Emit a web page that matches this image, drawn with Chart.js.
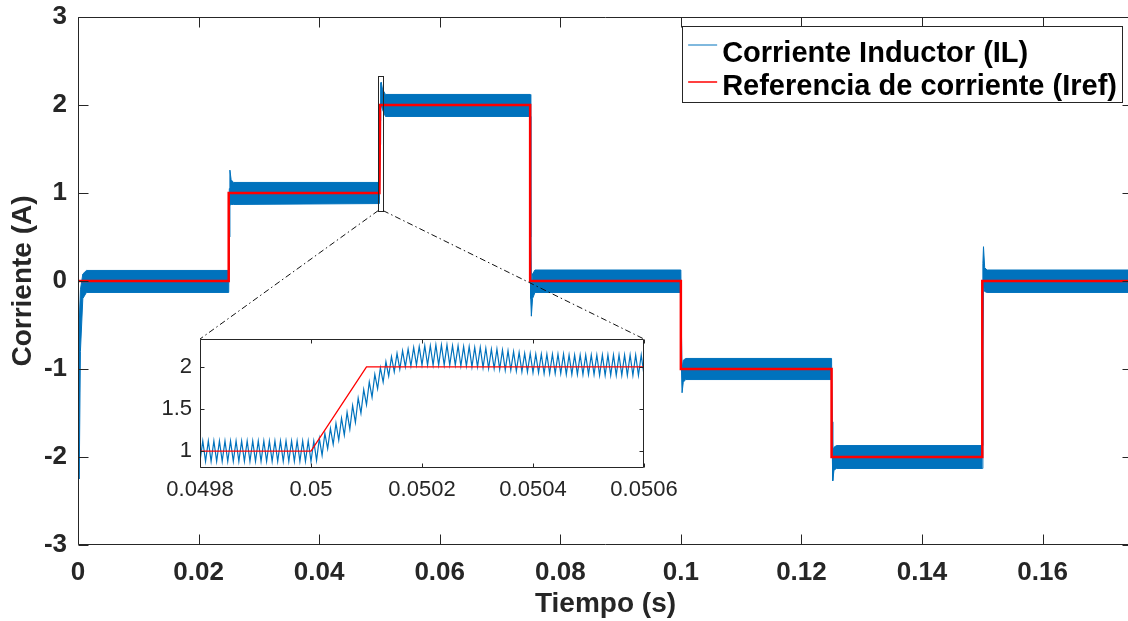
<!DOCTYPE html>
<html>
<head>
<meta charset="utf-8">
<script src="https://cdn.jsdelivr.net/npm/chart.js@4.4.1/dist/chart.umd.min.js"></script>
<style>
html, body { margin: 0; padding: 0; background: #fff; overflow: hidden; }
#wrap { position: relative; width: 1128px; height: 621px; overflow: hidden; }
#mainChart { position: absolute; left: 0; top: 0; }
#insetChart { position: absolute; left: 140px; top: 328px; }
</style>
</head>
<body>
<div id="wrap">
  <canvas id="mainChart" width="1134" height="621"></canvas>
  <canvas id="insetChart" width="560" height="185"></canvas>
</div>
<script>
// 축 눈금
const mainXTicks = [0, 0.02, 0.04, 0.06, 0.08, 0.1, 0.12, 0.14, 0.16];
const mainXLabels = ['0', '0.02', '0.04', '0.06', '0.08', '0.1', '0.12', '0.14', '0.16'];
const mainYTicks = [-3, -2, -1, 0, 1, 2, 3];
const mainYLabels = ['-3', '-2', '-1', '0', '1', '2', '3'];
const insetXTicks = [0.0498, 0.05, 0.0502, 0.0504, 0.0506];
const insetXLabels = ['0.0498', '0.05', '0.0502', '0.0504', '0.0506'];
const insetYTicks = [1, 1.5, 2];
const insetYLabels = ['1', '1.5', '2'];

// 확대 영역 (inset 축 범위 = 본 그래프의 사각형)
const insetXRange = [0.0498, 0.0506];
const insetYRange = [0.8, 2.33];

// 전류 기준 (Iref)
const refTime = [0, 0.025, 0.025, 0.05, 0.0501, 0.075, 0.075, 0.1, 0.1, 0.125, 0.125, 0.15, 0.15, 0.175];
const refValue = [0, 0, 1, 1, 2, 2, 0, 0, -1, -1, -2, -2, 0, 0];

// 인덕터 전류 리플 밴드 (상단/하단 포락선)
const envTime = [
  0, 0.0002, 0.0004, 0.0008, 0.0014,
  0.025, 0.0251, 0.0252, 0.0254, 0.0258,
  0.05, 0.0501, 0.0502, 0.0503, 0.0505, 0.051,
  0.075, 0.0751, 0.0752, 0.0754, 0.0758,
  0.1, 0.1001, 0.1002, 0.1004, 0.1008,
  0.125, 0.1251, 0.1252, 0.1254, 0.1258,
  0.15, 0.1501, 0.1502, 0.1504, 0.1508,
  0.175
];
const envUpper = [
  0, -0.5, -0.1, 0.08, 0.12,
  0.12, 1.05, 1.26, 1.15, 1.12,
  1.12, 1.82, 2.25, 2.26, 2.18, 2.12,
  2.12, 0.5, -0.1, 0.08, 0.125,
  0.125, -0.6, -1.0, -0.9, -0.88,
  -0.88, -1.6, -1.95, -1.89, -1.87,
  -1.87, 0.2, 0.39, 0.15, 0.125,
  0.125
];
const envLower = [
  0, -2.25, -0.8, -0.2, -0.13,
  -0.13, 0.5, 0.86, 0.87, 0.87,
  0.88, 1.55, 2.02, 2.0, 1.95, 1.87,
  1.87, -0.2, -0.4, -0.2, -0.13,
  -0.13, -1.0, -1.27, -1.15, -1.12,
  -1.12, -1.9, -2.27, -2.15, -2.13,
  -2.13, -0.8, -0.05, -0.12, -0.13,
  -0.13
];

// inset: 리플 (5us 간격, 골/마루 교대)
const insetStart = 0.0498;
const insetHalfStep = 0.000005;
const insetValleys = [
  0.88, 0.88, 0.88, 0.88, 0.88, 0.88, 0.88, 0.88, 0.88, 0.88,
  0.88, 0.88, 0.88, 0.88, 0.88, 0.88, 0.88, 0.88, 0.88, 0.88,
  0.88, 0.89, 0.95, 1.03, 1.08, 1.13, 1.19, 1.26, 1.34, 1.45,
  1.55, 1.64, 1.74, 1.82, 1.89, 1.94, 1.97, 2.00, 2.01, 2.02,
  2.02, 2.02, 2.02, 2.02, 2.02, 2.02, 2.02, 2.01, 2.01, 2.00,
  2.00, 1.99, 1.98, 1.98, 1.97, 1.96, 1.96, 1.95, 1.94, 1.94,
  1.93, 1.93, 1.92, 1.92, 1.92, 1.92, 1.91, 1.91, 1.91, 1.91,
  1.91, 1.91, 1.90, 1.90, 1.90, 1.90, 1.90, 1.90, 1.90, 1.90,
  1.90
];
const insetPeaks = [
  1.12, 1.12, 1.12, 1.12, 1.12, 1.12, 1.12, 1.12, 1.12, 1.12,
  1.12, 1.12, 1.12, 1.12, 1.12, 1.12, 1.12, 1.12, 1.12, 1.12,
  1.12, 1.15, 1.21, 1.27, 1.33, 1.39, 1.46, 1.54, 1.63, 1.73,
  1.82, 1.91, 1.99, 2.06, 2.12, 2.16, 2.19, 2.21, 2.23, 2.24,
  2.25, 2.25, 2.26, 2.26, 2.26, 2.25, 2.25, 2.24, 2.24, 2.23,
  2.23, 2.22, 2.21, 2.21, 2.20, 2.19, 2.18, 2.17, 2.16, 2.16,
  2.15, 2.15, 2.15, 2.15, 2.15, 2.15, 2.14, 2.14, 2.14, 2.14,
  2.14, 2.14, 2.14, 2.14, 2.14, 2.14, 2.14, 2.14, 2.14, 2.14
];
const insetRefTime = [0.0498, 0.05, 0.0501, 0.0506];
const insetRefValue = [1, 1, 2, 2];

const FONT = "'Liberation Sans', Arial, Helvetica, sans-serif";
const AXIS_COLOR = '#262626';
const BLUE = '#0072BD';
const RED = '#FF0000';

function toPoints(xs, ys) {
    return xs.map((x, i) => ({ x: x, y: ys[i] }));
}

const insetPoints = [];
for (let i = 0; i < insetValleys.length; i++) {
    insetPoints.push({ x: insetStart + 2 * i * insetHalfStep, y: insetValleys[i] });
    if (i < insetPeaks.length) {
        insetPoints.push({ x: insetStart + (2 * i + 1) * insetHalfStep, y: insetPeaks[i] });
    }
}

// MATLAB 스타일 상자 + 안쪽 눈금
const boxPlugin = {
    id: 'matlabBox',
    afterDatasetsDraw(chart, args, opts) {
        const { ctx, chartArea: a } = chart;
        const xs = chart.scales.x, ys = chart.scales.y;
        const len = opts.tickLen;
        const L = Math.round(a.left) + 0.5, R = Math.round(a.right) - 0.5;
        const T = Math.round(a.top) + 0.5, B = Math.round(a.bottom) - 0.5;
        ctx.save();
        ctx.strokeStyle = AXIS_COLOR;
        ctx.lineWidth = 1;
        ctx.setLineDash([]);
        ctx.beginPath();
        ctx.rect(L, T, R - L, B - T);
        xs.ticks.forEach(t => {
            const p = Math.round(xs.getPixelForValue(t.value)) + 0.5;
            ctx.moveTo(p, B); ctx.lineTo(p, B - len);
            ctx.moveTo(p, T); ctx.lineTo(p, T + len);
        });
        ys.ticks.forEach(t => {
            const p = Math.round(ys.getPixelForValue(t.value)) + 0.5;
            ctx.moveTo(L, p); ctx.lineTo(L + len, p);
            ctx.moveTo(R, p); ctx.lineTo(R - len, p);
        });
        ctx.stroke();
        ctx.restore();
    }
};

const whiteArea = {
    id: 'whiteArea',
    beforeDraw(chart) {
        const { ctx, chartArea: a } = chart;
        ctx.save();
        ctx.fillStyle = '#fff';
        ctx.fillRect(a.left, a.top, a.right - a.left, a.bottom - a.top);
        ctx.restore();
    }
};

function fixedTicks(values) {
    return function (scale) {
        scale.ticks = values.map(v => ({ value: v }));
    };
}

// 축 크기 고정 (라벨이 차트 영역을 밀어내지 않게)
function fixWidth(w) {
    return function (s) {
        s.width = w;
        s.paddingTop = 0;
        s.paddingBottom = 0;
    };
}
function fixHeight(h) {
    return function (s) {
        s.height = h;
        s.paddingLeft = 0;
        s.paddingRight = 0;
    };
}

// inset 차트
const insetCanvas = document.getElementById('insetChart');
const insetChart = new Chart(insetCanvas.getContext('2d'), {
    type: 'line',
    data: {
        datasets: [{
            data: toPoints(insetRefTime, insetRefValue),
            borderColor: RED,
            borderWidth: 1.3,
            pointRadius: 0,
            fill: false,
            order: 0
        }, {
            data: insetPoints,
            borderColor: BLUE,
            borderWidth: 1.2,
            pointRadius: 0,
            fill: false,
            order: 1
        }]
    },
    options: {
        responsive: false,
        animation: false,
        events: [],
        layout: { padding: { top: 11, right: 56, left: 0, bottom: 0 } },
        plugins: { legend: { display: false }, tooltip: { enabled: false }, matlabBox: { tickLen: 4 } },
        scales: {
            x: {
                type: 'linear',
                min: insetXRange[0],
                max: insetXRange[1],
                afterBuildTicks: fixedTicks(insetXTicks),
                afterFit: fixHeight(45),
                grid: { display: false, drawTicks: false, tickLength: 0 },
                border: { display: false },
                ticks: {
                    autoSkip: false,
                    maxRotation: 0,
                    padding: 9,
                    color: AXIS_COLOR,
                    font: { family: FONT, size: 22 },
                    callback: (v, i) => insetXLabels[i]
                }
            },
            y: {
                min: insetYRange[0],
                max: insetYRange[1],
                afterBuildTicks: fixedTicks(insetYTicks),
                afterFit: fixWidth(60),
                grid: { display: false, drawTicks: false, tickLength: 0 },
                border: { display: false },
                ticks: {
                    padding: 8,
                    color: AXIS_COLOR,
                    font: { family: FONT, size: 22 },
                    callback: (v, i) => insetYLabels[i]
                }
            }
        }
    },
    plugins: [whiteArea, boxPlugin]
});

// 확대 사각형, 연결선, 범례
const zoomPlugin = {
    id: 'zoomAndLegend',
    afterDatasetsDraw(chart) {
        const { ctx, scales: { x, y } } = chart;
        const x0 = x.getPixelForValue(insetXRange[0]), x1 = x.getPixelForValue(insetXRange[1]);
        const y0 = y.getPixelForValue(insetYRange[0]), y1 = y.getPixelForValue(insetYRange[1]);
        ctx.save();
        ctx.strokeStyle = AXIS_COLOR;
        ctx.lineWidth = 1;
        ctx.strokeRect(Math.round(x0) + 0.5, Math.round(y1) + 0.5, Math.round(x1 - x0), Math.round(y0 - y1));
        const ia = insetChart.chartArea;
        const ix0 = insetCanvas.offsetLeft + ia.left, ix1 = insetCanvas.offsetLeft + ia.right;
        const iy = insetCanvas.offsetTop + ia.top;
        ctx.strokeStyle = '#111';
        ctx.setLineDash([6, 3, 1.5, 3]);
        ctx.beginPath();
        ctx.moveTo(x0, y0); ctx.lineTo(ix0, iy);
        ctx.moveTo(x1, y0); ctx.lineTo(ix1, iy);
        ctx.stroke();
        ctx.restore();
    },
    afterDraw(chart) {
        const { ctx, chartArea: a } = chart;
        const items = chart.data.datasets.filter(d => d.label);
        ctx.save();
        ctx.font = 'bold 29px ' + FONT;
        const textW = Math.max(...items.map(d => ctx.measureText(d.label).width));
        const right = 1122, top = a.top + 9;
        const w = 6 + 29 + 5 + textW + 5, h = 76;
        const left = right - w;
        ctx.fillStyle = '#fff';
        ctx.fillRect(left, top, w, h);
        ctx.strokeStyle = AXIS_COLOR;
        ctx.lineWidth = 1;
        ctx.strokeRect(Math.round(left) + 0.5, Math.round(top) + 0.5, Math.round(w), h);
        const lineY = [19, 56];
        const baseY = [36, 69];
        items.forEach((d, i) => {
            ctx.strokeStyle = d.borderColor;
            ctx.lineWidth = d.legendWidth;
            ctx.beginPath();
            ctx.moveTo(left + 6, top + lineY[i]);
            ctx.lineTo(left + 35, top + lineY[i]);
            ctx.stroke();
            ctx.fillStyle = '#000';
            ctx.textBaseline = 'alphabetic';
            ctx.fillText(d.label, left + 40, top + baseY[i]);
        });
        ctx.restore();
    }
};

// 본 차트
const mainChart = new Chart(document.getElementById('mainChart').getContext('2d'), {
    type: 'line',
    data: {
        datasets: [{
            label: 'Corriente Inductor (IL)',
            data: toPoints(envTime, envUpper),
            borderColor: BLUE,
            backgroundColor: BLUE,
            borderWidth: 1,
            legendWidth: 1,
            pointRadius: 0,
            fill: '+1',
            order: 1
        }, {
            label: '',
            data: toPoints(envTime, envLower),
            borderColor: BLUE,
            borderWidth: 1,
            pointRadius: 0,
            fill: false,
            order: 1
        }, {
            label: 'Referencia de corriente (Iref)',
            data: toPoints(refTime, refValue),
            borderColor: RED,
            borderWidth: 2.5,
            legendWidth: 1.5,
            pointRadius: 0,
            fill: false,
            order: 0
        }]
    },
    options: {
        responsive: false,
        animation: false,
        events: [],
        layout: { padding: { top: 17, right: 1, left: 0, bottom: 0 } },
        plugins: { legend: { display: false }, tooltip: { enabled: false }, matlabBox: { tickLen: 10 } },
        scales: {
            x: {
                type: 'linear',
                min: 0,
                max: 0.175,
                afterBuildTicks: fixedTicks(mainXTicks),
                afterFit: fixHeight(76),
                grid: { display: false, drawTicks: false, tickLength: 0 },
                border: { display: false },
                ticks: {
                    autoSkip: false,
                    maxRotation: 0,
                    padding: 12,
                    color: AXIS_COLOR,
                    font: { family: FONT, size: 26, weight: 'bold' },
                    callback: (v, i) => mainXLabels[i]
                },
                title: {
                    display: true,
                    text: 'Tiempo (s)',
                    color: AXIS_COLOR,
                    padding: { top: 0, bottom: 0 },
                    font: { family: FONT, size: 28, weight: 'bold' }
                }
            },
            y: {
                min: -3,
                max: 3,
                afterBuildTicks: fixedTicks(mainYTicks),
                afterFit: fixWidth(78),
                grid: { display: false, drawTicks: false, tickLength: 0 },
                border: { display: false },
                ticks: {
                    padding: 11,
                    color: AXIS_COLOR,
                    font: { family: FONT, size: 26, weight: 'bold' },
                    callback: (v, i) => mainYLabels[i]
                },
                title: {
                    display: true,
                    text: 'Corriente (A)',
                    color: AXIS_COLOR,
                    padding: { top: 6, bottom: 0 },
                    font: { family: FONT, size: 28, weight: 'bold' }
                }
            }
        }
    },
    plugins: [boxPlugin, zoomPlugin]
});
</script>
</body>
</html>
